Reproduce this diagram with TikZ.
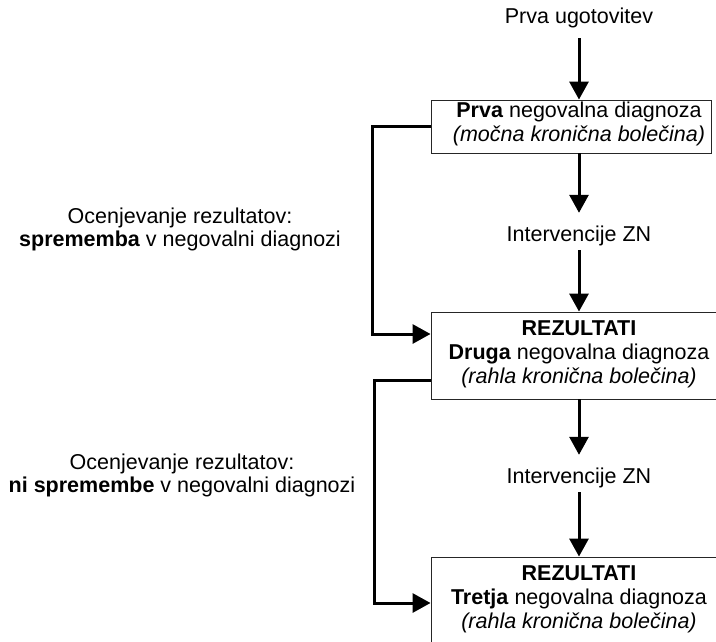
\documentclass[tikz,border=0pt]{standalone}
\usepackage{fontspec}
\setmainfont{Liberation Sans}
\usetikzlibrary{arrows.meta}
\begin{document}
\begin{tikzpicture}[x=1pt,y=-1pt,
  lbl/.style={inner sep=0pt, align=center, font=\fontsize{21.5}{23}\selectfont},
  boxtxt/.style={inner sep=0pt, align=center, font=\fontsize{21.5}{24}\selectfont},
  frame/.style={draw=black!85, line width=0.9pt, inner sep=0pt},
  arr/.style={line width=3pt, -{Triangle[length=18pt,width=19pt]}},
  feed/.style={line width=3pt, -{Triangle[length=18pt,width=19pt]}}]
\useasboundingbox (0,0) rectangle (716,641);

% boxes
\node[frame, minimum width=280pt, minimum height=53pt] (b1) at (571,126.5) {};
\node[frame, minimum width=296pt, minimum height=87pt] (b2) at (579,355.5) {};
\node[frame, minimum width=296pt, minimum height=87pt] (b3) at (579,600.5) {};

% texts
\node[lbl] (start) at (579,18) {Prva ugotovitev};
\node[boxtxt] (t1) at (579,124) {\textbf{Prva} negovalna diagnoza\\\textit{(močna kronična bolečina)}};
\node[lbl] (i1) at (579,236) {Intervencije ZN};
\node[boxtxt] (t2) at (579,354) {\textbf{REZULTATI}\\\textbf{Druga} negovalna diagnoza\\\textit{(rahla kronična bolečina)}};
\node[lbl] (i2) at (579,478) {Intervencije ZN};
\node[boxtxt] (t3) at (579,599) {\textbf{REZULTATI}\\\textbf{Tretja} negovalna diagnoza\\\textit{(rahla kronična bolečina)}};

\node[lbl] (e1) at (180,229) {Ocenjevanje rezultatov:\\\textbf{sprememba} v negovalni diagnozi};
\node[lbl] (e2) at (182,475) {Ocenjevanje rezultatov:\\\textbf{ni spremembe} v negovalni diagnozi};

% main flow
\draw[arr] ([yshift=-10pt]start.south) -- (start.south |- b1.north);
\draw[arr] (i1.north |- b1.south) -- ([yshift=13pt]i1.north);
\draw[arr] ([yshift=-4pt]i1.south) -- (i1.south |- b2.north);
\draw[arr] (i2.north |- b2.south) -- ([yshift=13pt]i2.north);
\draw[arr] ([yshift=-4pt]i2.south) -- (i2.south |- b3.north);

% evaluation loops
\draw[feed] (b1.west) -- ++(-58.5,0) |- ([yshift=21.5pt]b2.west);
\draw[feed] ([yshift=-24.5pt]b2.west) -- ++(-56,0) |- ([yshift=-2.5pt]b3.west);
\end{tikzpicture}
\end{document}
